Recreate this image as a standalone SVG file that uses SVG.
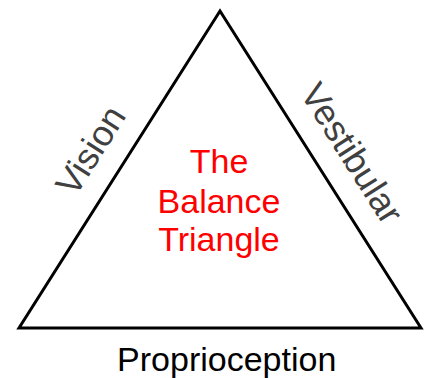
<svg xmlns="http://www.w3.org/2000/svg" width="425" height="378" viewBox="0 0 425 378">
<style>
.edge{fill:none;stroke:#000;stroke-width:3;stroke-linejoin:miter}
.side{font-family:"Liberation Sans",Arial,sans-serif;font-size:36px;fill:#404040;text-anchor:middle}
.base{font-family:"Liberation Sans",Arial,sans-serif;font-size:34px;fill:#000;text-anchor:middle}
.title{font-family:"Liberation Sans",Arial,sans-serif;font-size:34px;fill:#ff0000;text-anchor:middle}
</style>
<rect width="425" height="378" fill="#fff"/>
<g id="connectors">
<polygon class="edge" points="220,11 19,328 421,328"/>
</g>
<g id="vision"><text class="side" transform="translate(101,157) rotate(-57.6)">Vision</text></g>
<g id="vestibular"><text class="side" transform="translate(341.5,160) rotate(57.6)">Vestibular</text></g>
<g id="proprioception"><text class="base" x="226.7" y="371">Proprioception</text></g>
<g id="title"><text class="title"><tspan x="219" y="173">The</tspan><tspan x="219" y="213">Balance</tspan><tspan x="219" y="251">Triangle</tspan></text></g>
</svg>
